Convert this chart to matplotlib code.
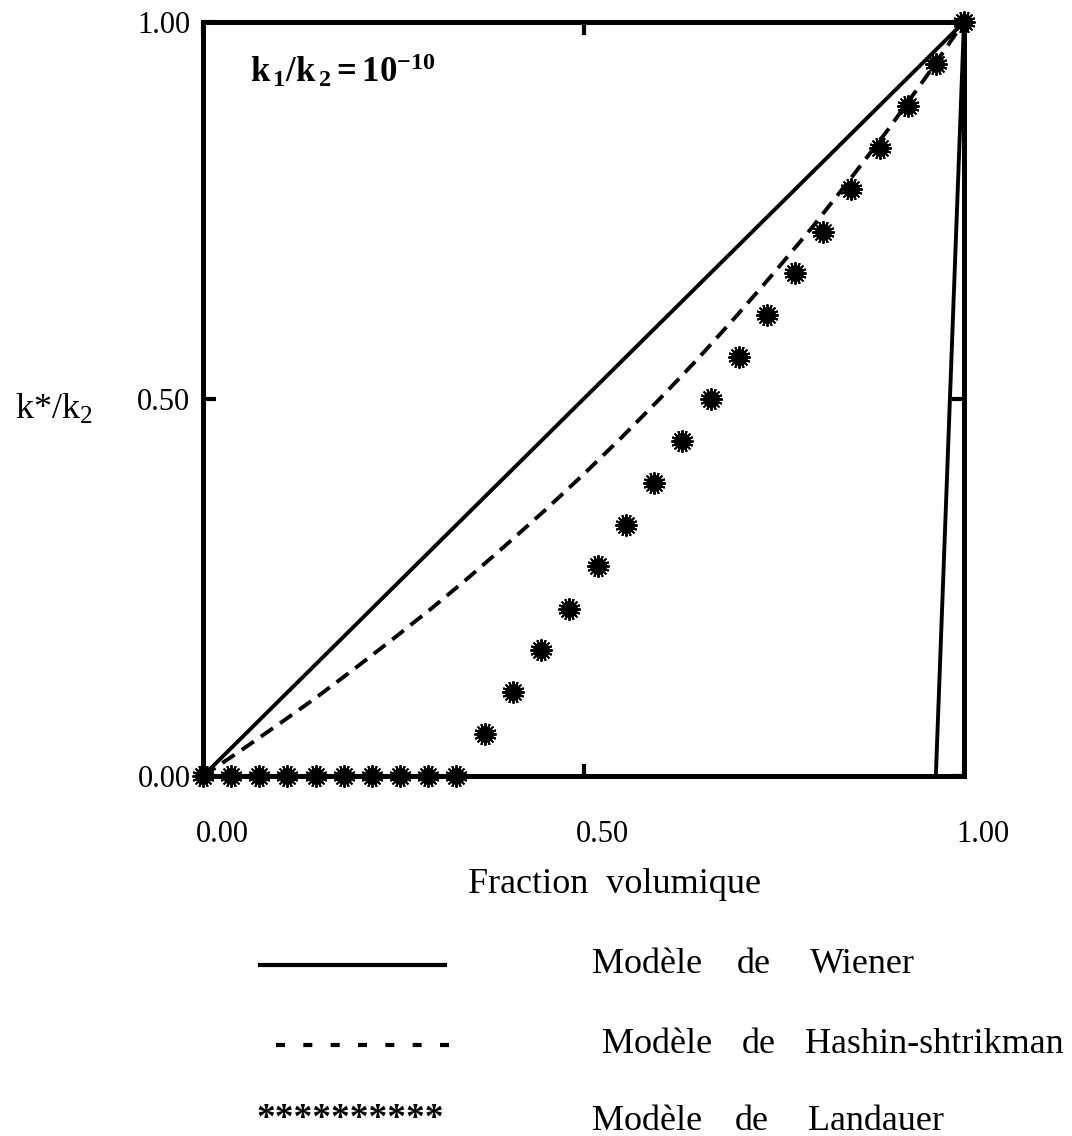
"""Effective conductivity bounds: Wiener, Hashin-Shtrikman and Landauer models."""

import matplotlib
matplotlib.use("Agg")
import matplotlib.pyplot as plt
import matplotlib.transforms as mtransforms
from matplotlib.lines import Line2D

plt.rcParams["font.family"] = ["Liberation Serif", "DejaVu Serif"]
plt.rcParams["mathtext.fontset"] = "custom"
plt.rcParams["mathtext.rm"] = "Liberation Serif"
plt.rcParams["mathtext.it"] = "Liberation Serif"
plt.rcParams["mathtext.bf"] = "Liberation Serif:bold"

# --- data ---------------------------------------------------------------
# Wiener (parallel bound): straight line
wiener_up_x = [0.0, 1.0]
wiener_up_y = [0.0, 1.0]
# Wiener (series bound): zero until last grid point
wiener_lo_x = [0.0, 0.963, 1.0]
wiener_lo_y = [0.0, 0.0, 1.0]

# Hashin-Shtrikman upper bound
hs_x = [0.00, 0.05, 0.10, 0.15, 0.20, 0.25, 0.30, 0.35, 0.40, 0.45, 0.50,
        0.55, 0.60, 0.65, 0.70, 0.75, 0.80, 0.85, 0.90, 0.95, 1.00]
hs_y = [0.000, 0.034, 0.069, 0.105, 0.143, 0.182, 0.222, 0.264, 0.308, 0.353, 0.400,
        0.449, 0.500, 0.553, 0.609, 0.667, 0.727, 0.791, 0.857, 0.927, 1.000]

# Landauer (effective medium) points
land_x = [0.000, 0.037, 0.074, 0.111, 0.148, 0.185, 0.222, 0.259, 0.296, 0.333,
          0.370, 0.407, 0.444, 0.481, 0.519, 0.556, 0.593, 0.630, 0.667, 0.704,
          0.741, 0.778, 0.815, 0.852, 0.889, 0.926, 0.963, 1.000]
land_y = [0.000, 0.000, 0.000, 0.000, 0.000, 0.000, 0.000, 0.000, 0.000, 0.000,
          0.056, 0.111, 0.167, 0.222, 0.278, 0.333, 0.389, 0.444, 0.500, 0.556,
          0.611, 0.667, 0.722, 0.778, 0.833, 0.889, 0.944, 1.000]

x_ticks = [0.0, 0.5, 1.0]
x_ticklabels = ["0.00", "0.50", "1.00"]
y_ticks = [0.0, 0.5, 1.0]
y_ticklabels = ["0.00", "0.50", "1.00"]

legend_labels = [
    ("Modèle", "de", "Wiener"),
    ("Modèle", "de", "Hashin-shtrikman"),
    ("Modèle", "de", "Landauer"),
]

# --- figure ---------------------------------------------------------------
W, H = 1072, 1136
fig = plt.figure(figsize=(W / 100, H / 100), dpi=100)
ax = fig.add_axes([203 / W, 1 - 776 / H, (964 - 203) / W, (776 - 22) / H])

ax.plot(wiener_up_x, wiener_up_y, color="black", lw=2.8, solid_capstyle="butt")
ax.plot(wiener_lo_x, wiener_lo_y, color="black", lw=2.8, clip_on=False)
ax.plot(hs_x, hs_y, color="black", lw=2.8, dashes=(3.8, 2.2))
ax.plot(land_x, land_y, ls="none", marker="o", ms=11, color="black", clip_on=False)
ax.plot(land_x, land_y, ls="none", marker=(16, 2, 0), ms=16, mew=1.4,
        color="black", clip_on=False)

ax.set_xlim(0, 1)
ax.set_ylim(0, 1)
for sp in ax.spines.values():
    sp.set_linewidth(3.6)

ax.set_xticks(x_ticks)
ax.set_xticklabels(x_ticklabels, fontsize=22)
ax.set_yticks(y_ticks)
ax.set_yticklabels(y_ticklabels, fontsize=22)
ax.tick_params(direction="in", length=9, width=3, top=True, right=True)
ax.tick_params(axis="x", pad=32)
ax.tick_params(axis="y", pad=9)

# tick labels on x sit a little to the right of their ticks
offset = mtransforms.ScaledTranslation(0.19, 0, fig.dpi_scale_trans)
for lab in ax.get_xticklabels():
    lab.set_transform(lab.get_transform() + offset)

ax.text(0.062, 0.935, r"$\mathbf{k_{\,1}/k_{\,2}{=}10^{-10}}$", transform=ax.transAxes,
        fontsize=25, ha="left", va="center")

fig.text(615 / W, 1 - 893 / H, "Fraction  volumique", fontsize=26,
         ha="center", va="baseline")
fig.text(54 / W, 1 - 410 / H, r"k*/k$_2$", fontsize=26, ha="center", va="center")

# --- hand-drawn legend below the axes ---------------------------------------
fig.add_artist(Line2D([260 / W, 445 / W], [1 - 965 / H] * 2, color="black",
                      lw=3.0, transform=fig.transFigure))
fig.add_artist(Line2D([276 / W, 449 / W], [1 - 1045 / H] * 2, color="black",
                      lw=3.0, dashes=(2.16, 4.4), dash_capstyle="butt",
                      transform=fig.transFigure))
fig.text(256 / W, 1 - 1120 / H, "**********", fontsize=27, fontweight="bold",
         ha="left", va="center")

rows_y = [973, 1053, 1130]
rows_x = [(592, 737, 810), (602, 742, 805), (592, 735, 808)]
for (words, y, xs) in zip(legend_labels, rows_y, rows_x):
    for word, xw in zip(words, xs):
        fig.text(xw / W, 1 - y / H, word, fontsize=26, ha="left", va="baseline")

fig.savefig("out.png", dpi=100)
